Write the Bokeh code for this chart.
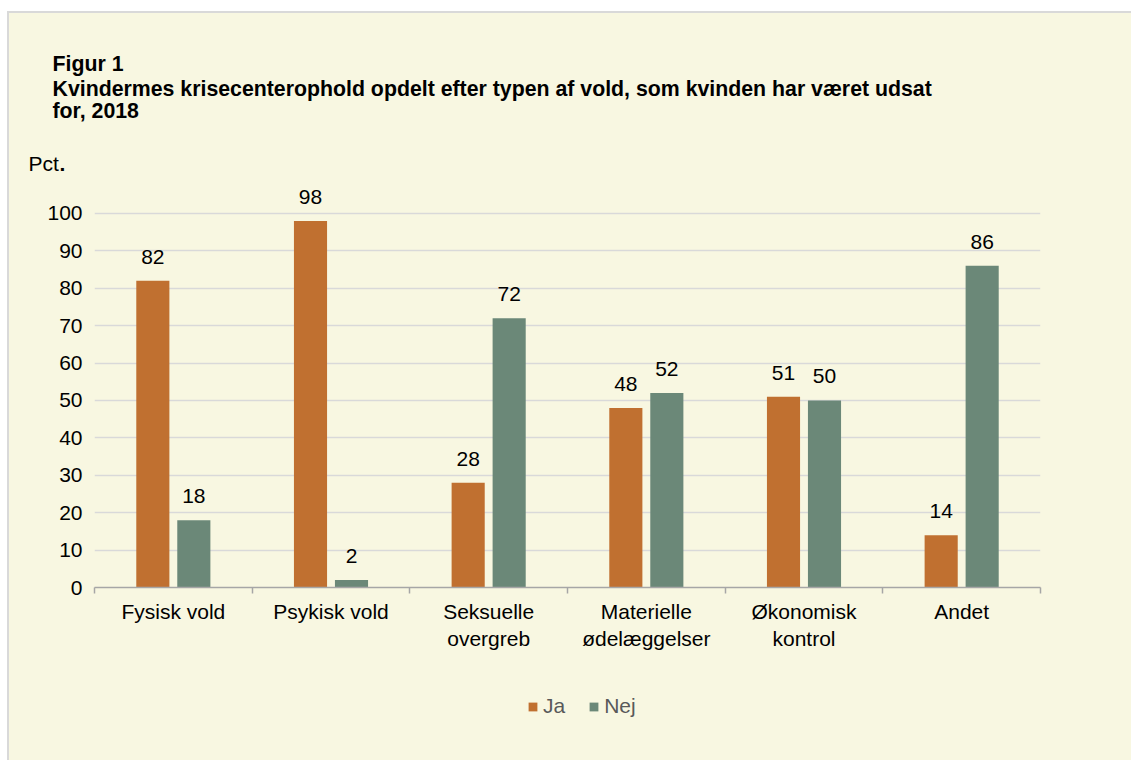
from bokeh.plotting import figure
from bokeh.layouts import column
from bokeh.models import Range1d, FixedTicker, Legend, LegendItem, ColumnDataSource
from bokeh.embed import file_html
from bokeh.resources import INLINE
from bokeh.core.properties import value

# ---- data ----
categories = ["Fysisk vold", "Psykisk vold", "Seksuelle\novergreb",
              "Materielle\nødelæggelser", "Økonomisk\nkontrol", "Andet"]
ja_values = [82, 98, 28, 48, 51, 14]
nej_values = [18, 2, 72, 52, 50, 86]
series_names = ["Ja", "Nej"]
y_ticks = [0, 10, 20, 30, 40, 50, 60, 70, 80, 90, 100]
title_lines = ["Figur 1",
               "Kvindermes krisecenterophold opdelt efter typen af vold, som kvinden har været udsat",
               "for, 2018"]
unit_label = "Pct"

# ---- style ----
FONT = "Liberation Sans"
BG = "#F8F7E1"
JA_COLOR = "#C07030"
NEJ_COLOR = "#6B8878"
W = 1122
H_HEAD = 163
H_MAIN = 504
H_FOOT = 80


def blank(height):
    f = figure(width=W, height=height, x_range=Range1d(0, W), y_range=Range1d(height, 0),
               output_backend="svg", toolbar_location=None, tools="",
               x_axis_type=None, y_axis_type=None, frame_align=False,
               min_border=0, min_border_left=0, min_border_right=0,
               min_border_top=0, min_border_bottom=0)
    f.background_fill_color = BG
    f.border_fill_color = BG
    f.outline_line_color = None
    f.xgrid.visible = False
    f.ygrid.visible = False
    return f


# ---- header: title and unit ----
head = blank(H_HEAD)
head.text(x=[43] * 3, y=[50, 75, 97], text=title_lines, text_font=value(FONT),
          text_font_size="21.3px", text_font_style="bold", text_color="#000000",
          text_baseline="alphabetic", text_align="left")
head.text(x=[19], y=[150], text=[unit_label], text_font=value(FONT),
          text_font_size="21px", text_color="#000000", text_baseline="alphabetic")
head.text(x=[50], y=[150], text=["."], text_font=value(FONT), text_font_style="bold",
          text_font_size="21px", text_color="#000000", text_baseline="alphabetic")

# ---- main chart ----
n = len(categories)
centers = [i + 0.5 for i in range(n)]
offset = 0.13
bar_w = 0.21

p = figure(width=W, height=H_MAIN, x_range=Range1d(0, n), y_range=Range1d(0, 109.89),
           output_backend="svg", toolbar_location=None, tools="", frame_align=False,
           min_border_left=85, min_border_right=W - 1031, min_border_top=0, min_border_bottom=93)
p.background_fill_color = BG
p.border_fill_color = BG
p.outline_line_color = None

src_ja = ColumnDataSource(dict(x=[c - offset for c in centers], top=ja_values,
                               lab=[str(v) for v in ja_values]))
src_nej = ColumnDataSource(dict(x=[c + offset for c in centers], top=nej_values,
                                lab=[str(v) for v in nej_values]))

p.vbar(x="x", top="top", width=bar_w, bottom=0, source=src_ja,
       fill_color=JA_COLOR, line_color=None)
p.vbar(x="x", top="top", width=bar_w, bottom=0, source=src_nej,
       fill_color=NEJ_COLOR, line_color=None)

for src in (src_ja, src_nej):
    p.text(x="x", y="top", text="lab", source=src, text_align="center",
           text_baseline="alphabetic", y_offset=-24, text_font=value(FONT),
           text_font_size="21px", text_color="#000000")

p.xgrid.grid_line_color = None
p.ygrid.grid_line_color = "#D9D9D9"
p.ygrid.grid_line_width = 1.5

p.yaxis.ticker = FixedTicker(ticks=y_ticks)
p.yaxis.axis_line_color = None
p.yaxis.major_tick_line_color = None
p.yaxis.minor_tick_line_color = None
p.yaxis.major_label_standoff = 6
p.yaxis.major_label_text_font = FONT
p.yaxis.major_label_text_font_size = "21px"
p.yaxis.major_label_text_color = "#000000"

p.xaxis.ticker = FixedTicker(ticks=centers, minor_ticks=list(range(n + 1)))
p.xaxis.major_label_overrides = {c: lab for c, lab in zip(centers, categories)}
p.xaxis.axis_line_color = "#A6A6A6"
p.xaxis.axis_line_width = 1.5
p.xaxis.major_tick_line_color = None
p.xaxis.minor_tick_line_color = "#A6A6A6"
p.xaxis.minor_tick_line_width = 1.5
p.xaxis.minor_tick_in = 0
p.xaxis.minor_tick_out = 6
p.xaxis.major_label_standoff = 6
p.xaxis.major_label_text_font = FONT
p.xaxis.major_label_text_font_size = "21px"
p.xaxis.major_label_text_color = "#000000"

# ---- footer: legend ----
foot = blank(H_FOOT)
f_ja = foot.vbar(x=[0], top=[0], bottom=0, width=0, fill_color=JA_COLOR, line_color=None)
f_nej = foot.vbar(x=[0], top=[0], bottom=0, width=0, fill_color=NEJ_COLOR, line_color=None)
legend = Legend(items=[LegendItem(label=series_names[0], renderers=[f_ja]),
                       LegendItem(label=series_names[1], renderers=[f_nej])],
                orientation="horizontal", location=(518, 42),
                glyph_width=11, glyph_height=11, label_standoff=5, spacing=23,
                padding=0, margin=0, border_line_color=None,
                background_fill_alpha=0, label_text_font=FONT,
                label_text_font_size="21px", label_text_color="#595959")
foot.add_layout(legend)

layout = column(head, p, foot, spacing=0, margin=(11, 0, 0, 7),
                styles={"border-top": "2px solid #D9D9D9", "border-left": "2px solid #D9D9D9",
                        "background-color": BG})

open("out.html", "w").write(file_html(layout, INLINE))
